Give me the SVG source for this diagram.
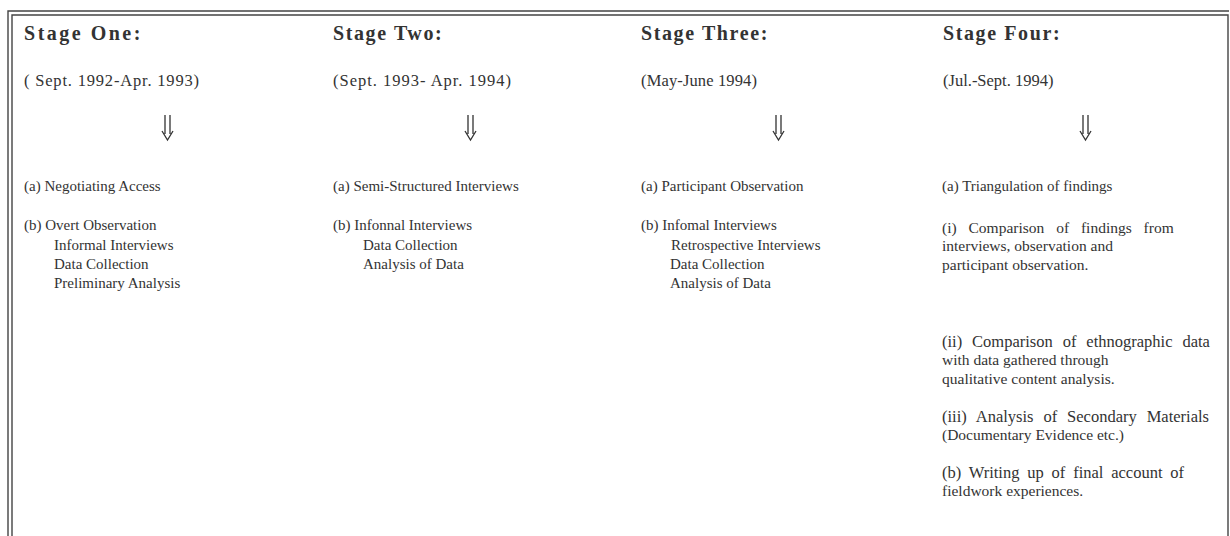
<svg xmlns="http://www.w3.org/2000/svg" width="1230" height="536" viewBox="0 0 1230 536">
<style>
text{font-family:"Liberation Serif","Times New Roman",serif;fill:#333}
.h{font-size:20px;font-weight:bold;letter-spacing:1.6px}
.t{font-size:15px}
.c{font-size:15.5px}
.f{font-size:16.5px}
.d{font-size:16.5px}
.frame{fill:none;stroke:#444;stroke-width:1.4}
.arr{fill:none;stroke:#333;stroke-width:1.3}
</style>
<rect width="1230" height="536" fill="#fff"/>
<g id="frame">
<path class="frame" d="M8,536 V11 H1229"/>
<path class="frame" d="M12,536 V15 H1228 V536"/>
</g>
<g id="connectors">
<path class="arr" d="M165,115 V134 M170,115 V134 M162,131 L167.5,140 L173,131"/>
<path class="arr" d="M468,115 V134 M473,115 V134 M465,131 L470.5,140 L476,131"/>
<path class="arr" d="M776,115 V134 M781,115 V134 M773,131 L778.5,140 L784,131"/>
<path class="arr" d="M1083,115 V134 M1088,115 V134 M1080,131 L1085.5,140 L1091,131"/>
</g>
<g id="stage1">
<text class="h" x="24" y="40" textLength="118" lengthAdjust="spacing">Stage One:</text>
<text class="d" x="24" y="86" textLength="175" lengthAdjust="spacing">( Sept. 1992-Apr. 1993)</text>
<text class="t" x="24" y="191">(a) Negotiating Access</text>
<text class="t" x="24" y="230">(b) Overt Observation</text>
<text class="t" x="54" y="250">Informal Interviews</text>
<text class="t" x="54" y="269">Data Collection</text>
<text class="t" x="54" y="288">Preliminary Analysis</text>
</g>
<g id="stage2">
<text class="h" x="333" y="40">Stage Two:</text>
<text class="d" x="333" y="86" textLength="178" lengthAdjust="spacing">(Sept. 1993- Apr. 1994)</text>
<text class="t" x="333" y="191">(a) Semi-Structured Interviews</text>
<text class="t" x="333" y="230">(b) Infonnal Interviews</text>
<text class="t" x="363" y="250">Data Collection</text>
<text class="t" x="363" y="269">Analysis of Data</text>
</g>
<g id="stage3">
<text class="h" x="641" y="40">Stage Three:</text>
<text class="d" x="641" y="86" textLength="116" lengthAdjust="spacing">(May-June 1994)</text>
<text class="t" x="641" y="191">(a) Participant Observation</text>
<text class="t" x="641" y="230">(b) Infomal Interviews</text>
<text class="t" x="671" y="250">Retrospective Interviews</text>
<text class="t" x="670" y="269">Data Collection</text>
<text class="t" x="670" y="288">Analysis of Data</text>
</g>
<g id="stage4">
<text class="h" x="943" y="40">Stage Four:</text>
<text class="d" x="943" y="86">(Jul.-Sept. 1994)</text>
<text class="t" x="942" y="191">(a) Triangulation of findings</text>
<text class="c" x="942" y="233" word-spacing="8">(i)  Comparison of findings from</text>
<text class="c" x="942" y="251">interviews, observation and</text>
<text class="c" x="942" y="270">participant observation.</text>
<text class="f" x="942" y="347" word-spacing="5.8">(ii) Comparison of ethnographic data</text>
<text class="c" x="942" y="365">with data gathered through</text>
<text class="c" x="942" y="384">qualitative content  analysis.</text>
<text class="f" x="942" y="422" word-spacing="5.8">(iii) Analysis of Secondary Materials</text>
<text class="c" x="942" y="440">(Documentary Evidence etc.)</text>
<text class="f" x="942" y="478" word-spacing="3.7">(b) Writing up of final account of</text>
<text class="c" x="942" y="496">fieldwork experiences.</text>
</g>
</svg>
